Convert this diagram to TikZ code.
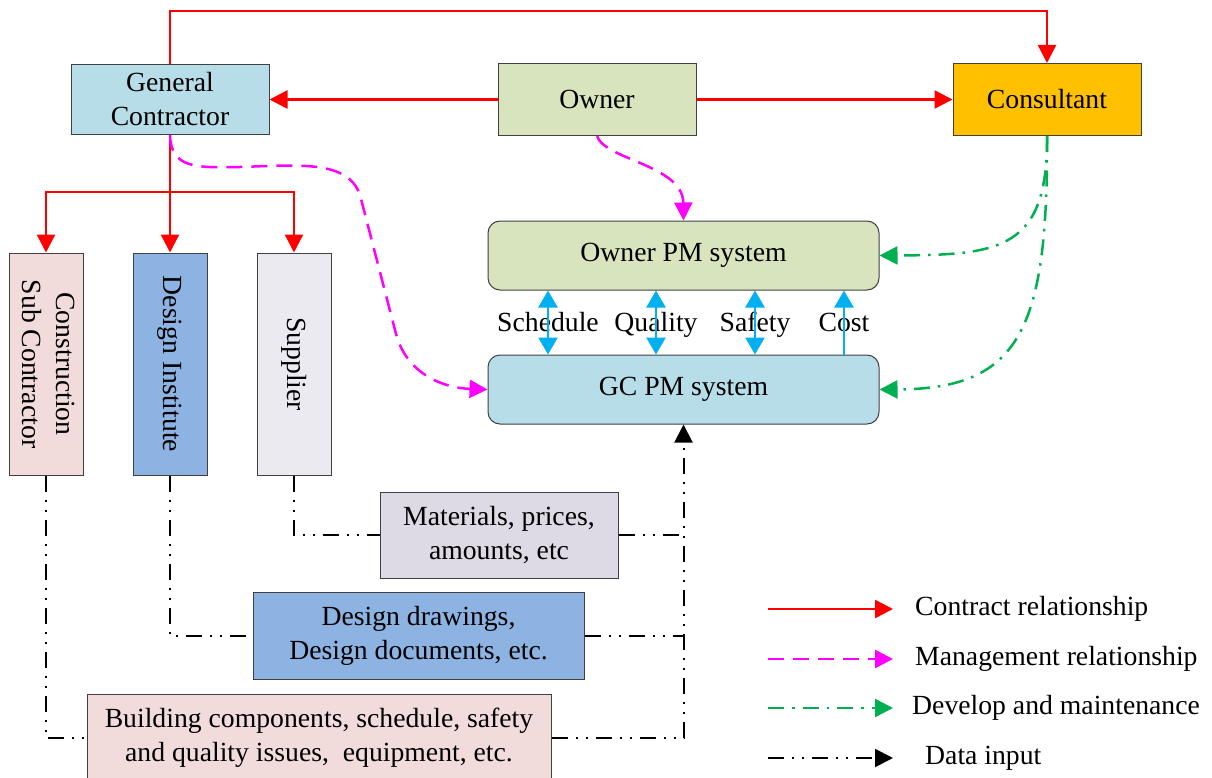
\documentclass[tikz,border=0pt]{standalone}
\usepackage{fontspec}
\setmainfont{Liberation Serif}
\usepackage{tikz}
\usetikzlibrary{arrows.meta}

\definecolor{gcblue}{HTML}{B7DDE8}
\definecolor{ownergreen}{HTML}{D7E4BD}
\definecolor{consorange}{HTML}{FFC000}
\definecolor{subpink}{HTML}{F2DCDB}
\definecolor{designblue}{HTML}{8DB3E2}
\definecolor{supgray}{HTML}{ECEAF1}
\definecolor{matpurple}{HTML}{DDD9E5}
\definecolor{mgmtpink}{HTML}{FF00FF}
\definecolor{contractred}{HTML}{FF0000}
\definecolor{devgreen}{HTML}{00B050}
\definecolor{infoblue}{HTML}{00B0F0}

\begin{document}
\begin{tikzpicture}[
		x=1pt,y=-1pt,
		>={Triangle[length=18pt,width=18pt]},
		every node/.style={font=\fontsize{27.7}{34}\selectfont},
		blk/.style={draw=black!75, line width=1pt, align=center, inner sep=2pt},
		vblk/.style={blk, minimum width=74pt, minimum height=222pt},
		pmsys/.style={blk, rounded corners=12pt, minimum width=391pt, minimum height=69pt},
		flowlabel/.style={anchor=base},
		contract/.style={->, draw=contractred, line width=2.5pt},
		manage/.style={->, draw=mgmtpink, line width=2.5pt, dash pattern=on 16pt off 9pt},
		develop/.style={->, draw=devgreen, line width=2.5pt, dash pattern=on 16pt off 8pt on 2.5pt off 8pt},
		datain/.style={draw=black, line width=2pt, dash pattern=on 16pt off 8pt on 2pt off 8pt on 2pt off 8pt},
		infoflow/.style={draw=infoblue, line width=2.5pt, >={Triangle[length=17pt,width=19pt]}}
		]
		
		\useasboundingbox (0,0) rectangle (1212,778);
		\clip (0,0) rectangle (1212,778);
		
		% =========================
		% Top row: parties
		% =========================
		\node[blk, fill=gcblue, minimum width=198pt, minimum height=70pt] (gc) at (170,99.5) {General\\Contractor};
		\node[blk, fill=ownergreen, minimum width=198pt, minimum height=72pt] (owner) at (597,99.5) {Owner};
		\node[blk, fill=consorange, minimum width=188pt, minimum height=72pt] (cons) at (1047,99.5) {Consultant};
		
		% sub parties of the general contractor
		\node[vblk, fill=subpink] (csc) at (46,364)
		{\rotatebox{-90}{\begin{tabular}{@{}c@{}}Construction\\Sub Contractor\end{tabular}}};
		\node[vblk, fill=designblue] (di) at (170,364) {\rotatebox{-90}{Design Institute}};
		\node[vblk, fill=supgray] (sup) at (294,364) {\rotatebox{-90}{Supplier}};
		
		% =========================
		% PM systems
		% =========================
		\node[pmsys, fill=ownergreen] (opm) at (683.5,255.5) {Owner PM system};
		\node[pmsys, fill=gcblue] (gcpm) at (683.5,389.5) {GC PM system};
		
		\node[flowlabel] (sch) at (548,331) {Schedule};
		\node[flowlabel] (qual) at (656,331) {Quality};
		\node[flowlabel] (safe) at (755,331) {Safety};
		\node[flowlabel] (cost) at (844,331) {Cost};
		
		\draw[infoflow, <->] (sch |- opm.south) -- (sch |- gcpm.north);
		\draw[infoflow, <->] (qual |- opm.south) -- (qual |- gcpm.north);
		\draw[infoflow, <->] (safe |- opm.south) -- (safe |- gcpm.north);
		\draw[infoflow, ->] (cost |- gcpm.north) -- (cost |- opm.south);
		
		% =========================
		% Data boxes
		% =========================
		\node[blk, fill=matpurple, minimum width=238pt, minimum height=86pt] (mat) at (499,535) {Materials, prices,\\amounts, etc};
		\node[blk, fill=designblue, minimum width=331pt, minimum height=87pt] (dd) at (418.5,635.5) {Design drawings,\\Design documents, etc.};
		\node[blk, fill=subpink, minimum width=464pt, minimum height=88pt] (bc) at (319,738) {Building components, schedule, safety\\and quality issues,~ equipment, etc.};
		
		% =========================
		% Contract relationships
		% =========================
		\draw[contract] (gc.north) -- ++(0,-53) -| (cons.north);
		\draw[contract] (owner.west) -- (owner.west -| gc.east);
		\draw[contract] (owner.east) -- (owner.east -| cons.west);
		
		\coordinate (split) at (170,192);
		\draw[contract] (gc.south) -- (di.north);
		\draw[contract] (split) -| (csc.north);
		\draw[contract] (split) -| (sup.north);
		
		% management relationships
		\draw[manage] (owner.south) .. controls (605,160) and (683,165) .. (opm.north);
		\draw[manage] (gc.south) .. controls (171,168) and (195,168) .. (240,167)
		.. controls (300,165) and (348,160) .. (360,195) -- (395,330)
		.. controls (405,375) and (445,388) .. (gcpm.west);
		
		% develop and maintenance
		\draw[develop] (cons.south) .. controls (1048,250) and (1000,255) .. (opm.east);
		\draw[develop] (cons.south) .. controls (1048,330) and (1020,389) .. (gcpm.east);
		
		% data input
		\draw[datain] (sup.south) |- (mat.west);
		\draw[datain] (mat.east) -- (mat.east -| gcpm.south);
		\draw[datain] (di.south) |- (dd.west);
		\draw[datain] (dd.east) -- (dd.east -| gcpm.south);
		\draw[datain] (csc.south) |- (bc.west);
		\draw[datain, ->] (bc.east) -| (gcpm.south);
		
		% =========================
		% Legend
		% =========================
		\node[anchor=west, inner sep=0pt] (lg1) at (915,609) {Contract relationship};
		\node[anchor=west, inner sep=0pt] (lg2) at (915,659) {Management relationship};
		\node[anchor=west, inner sep=0pt] (lg3) at (912,708) {Develop and maintenance};
		\node[anchor=west, inner sep=0pt] (lg4) at (925,758) {Data input};
		
		\coordinate (lgs) at (768,0);
		\coordinate (lge) at (893,0);
		\draw[contract] (lg1 -| lgs) -- (lg1 -| lge);
		\draw[manage] (lg2 -| lgs) -- (lg2 -| lge);
		\draw[develop] (lg3 -| lgs) -- (lg3 -| lge);
		\draw[datain, ->] (lg4 -| lgs) -- (lg4 -| lge);
		
	\end{tikzpicture}
\end{document}
